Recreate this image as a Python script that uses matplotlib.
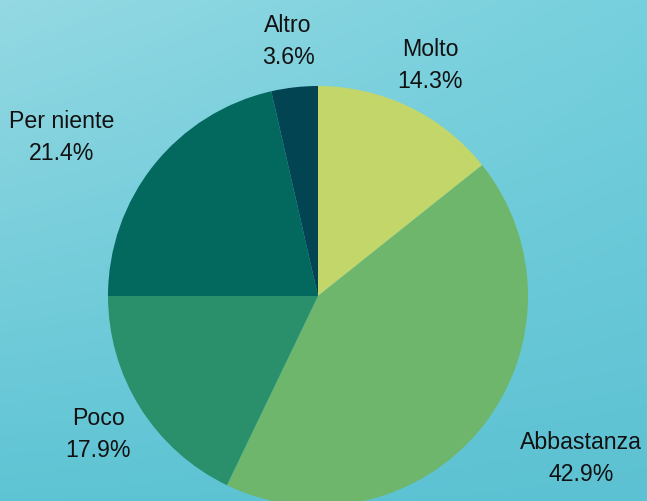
import matplotlib.pyplot as plt
import matplotlib.colors as mcolors
import numpy as np

# data
labels = ["Molto", "Abbastanza", "Poco", "Per niente", "Altro"]
counts = [4, 12, 5, 6, 1]
slice_colors = ["#c2d66a", "#6db66c", "#2a906c", "#03695f", "#034453"]

# label anchor positions in pixels (x, y from top), per slice
label_px = [(430, 65), (581, 459), (98, 435), (62, 137), (288, 41)]

W, H = 647, 502
fig = plt.figure(figsize=(W / 100, H / 100), dpi=100)

# watercolour-ish teal backdrop, approximated with a soft gradient
bg_ax = fig.add_axes([0, 0, 1, 1])
corners = np.array([
    mcolors.to_rgb("#94d9e3"),  # top-left
    mcolors.to_rgb("#76d0dd"),  # top-right
    mcolors.to_rgb("#5ec4d4"),  # bottom-left
    mcolors.to_rgb("#5cc1d2"),  # bottom-right
])
u = np.linspace(0, 1, W)[None, :, None]
v = np.linspace(0, 1, H)[:, None, None]
grad = ((1 - u) * (1 - v) * corners[0] + u * (1 - v) * corners[1]
        + (1 - u) * v * corners[2] + u * v * corners[3])
bg_ax.imshow(grad, aspect="auto", extent=[0, 1, 0, 1])
bg_ax.set_axis_off()

# pie axes: centre (318, 297) px, radius 210 px
cx, cy, r = 318, 297, 210
ax = fig.add_axes([(cx - r) / W, (H - cy - r) / H, 2 * r / W, 2 * r / H])
ax.pie(counts, colors=slice_colors, startangle=90, counterclock=False,
       radius=1.0, wedgeprops=dict(linewidth=0))
ax.set_xlim(-1, 1)
ax.set_ylim(-1, 1)
ax.set_aspect("equal")
ax.set_axis_off()

total = sum(counts)
for name, n, (px, py) in zip(labels, counts, label_px):
    pct = 100.0 * n / total
    fig.text(px / W, 1 - py / H, "%s\n%.1f%%" % (name, pct),
             ha="center", va="center", fontsize=16.7,
             family="Liberation Sans", color="#111111", linespacing=1.5)

fig.savefig("out.png", dpi=100)
